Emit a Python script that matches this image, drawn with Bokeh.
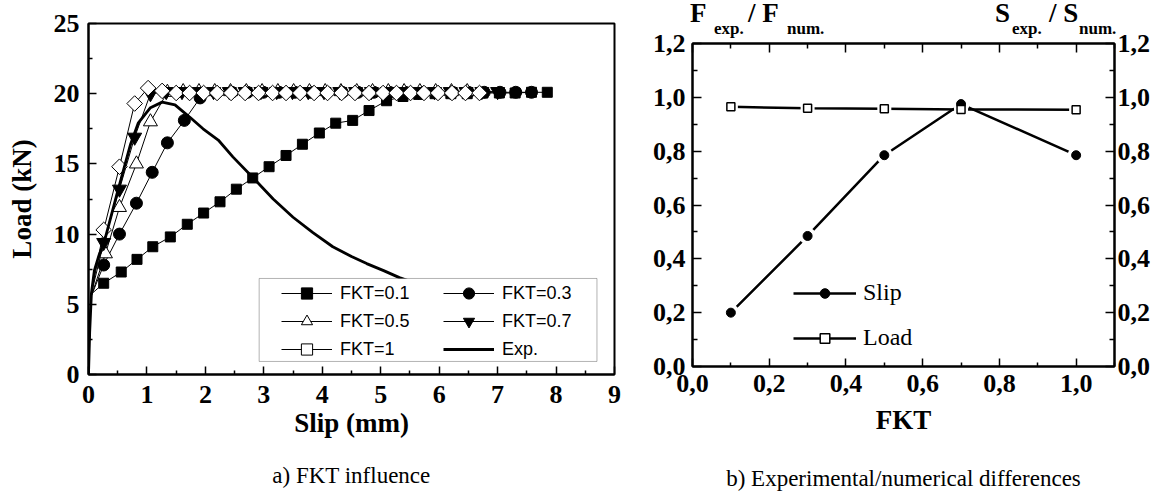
from bokeh.plotting import figure
from bokeh.models import (Range1d, FixedTicker, LinearAxis, Legend, LegendItem, Title, Div,
                          BoxAnnotation, CustomJSTickFormatter)
from bokeh.layouts import row, column
from bokeh.embed import file_html
from bokeh.resources import INLINE
import numpy as np

SERIF = "Liberation Serif"
SANS = "Liberation Sans"

# ---------------- data: a) FKT influence ----------------
fkt01_x = [0.0, 0.04, 0.26, 0.56, 0.83, 1.10, 1.40, 1.69, 1.97, 2.25,
           2.53, 2.81, 3.09, 3.38, 3.66, 3.95, 4.23, 4.52, 4.80, 5.10,
           5.38, 5.65, 5.93, 6.20, 6.48, 6.75, 7.03, 7.30, 7.58, 7.85]
fkt01_y = [0.0, 5.7, 6.5, 7.3, 8.2, 9.1, 9.8, 10.7, 11.5, 12.3,
           13.2, 14.0, 14.8, 15.6, 16.4, 17.2, 17.9, 18.1, 18.8, 19.5,
           19.8, 19.95, 20.0, 20.0, 20.0, 20.05, 20.05, 20.05, 20.1, 20.1]

fkt03_x = [0.0, 0.04, 0.26, 0.53, 0.82, 1.09, 1.35, 1.64, 1.91, 2.18,
           2.45, 2.72, 2.99, 3.26, 3.53, 3.80, 4.07, 4.34, 4.61, 4.88,
           5.15, 5.42, 5.69, 5.96, 6.23, 6.50, 6.77, 7.04, 7.31, 7.58]
fkt03_y = [0.0, 5.5, 7.8, 10.0, 12.2, 14.4, 16.5, 18.1, 19.7, 20.1,
           20.1, 20.1, 20.1, 20.1, 20.1, 20.1, 20.1, 20.1, 20.1, 20.1,
           20.1, 20.1, 20.1, 20.1, 20.1, 20.1, 20.1, 20.1, 20.1, 20.1]

fkt05_x = [0.0, 0.04, 0.29, 0.53, 0.82, 1.06, 1.35, 1.62, 1.89, 2.16,
           2.43, 2.70, 2.97, 3.24, 3.51, 3.78, 4.05, 4.32, 4.59, 4.86,
           5.13, 5.40, 5.67, 5.94, 6.21, 6.48]
fkt05_y = [0.0, 5.5, 8.6, 11.9, 15.0, 18.0, 20.1, 20.15, 20.15, 20.15,
           20.15, 20.15, 20.15, 20.15, 20.15, 20.15, 20.15, 20.15, 20.15, 20.15,
           20.15, 20.15, 20.15, 20.15, 20.15, 20.15]

fkt07_x = [0.0, 0.04, 0.26, 0.53, 0.79, 1.06, 1.33, 1.60, 1.87, 2.14,
           2.41, 2.68, 2.95, 3.22, 3.49, 3.76, 4.03, 4.30, 4.57, 4.84,
           5.11, 5.38, 5.65, 5.92, 6.19, 6.46, 6.73, 7.00]
fkt07_y = [0.0, 5.6, 9.4, 13.2, 16.9, 20.0, 20.15, 20.15, 20.15, 20.15,
           20.15, 20.15, 20.15, 20.15, 20.15, 20.15, 20.15, 20.15, 20.15, 20.15,
           20.15, 20.15, 20.15, 20.15, 20.15, 20.15, 20.15, 20.15]

fkt1_x = [0.0, 0.04, 0.26, 0.53, 0.79, 1.02, 1.26, 1.50, 1.73, 1.97,
          2.20, 2.44, 2.68, 2.91, 3.15, 3.38, 3.62, 3.86, 4.09, 4.33,
          4.56, 4.80, 5.04, 5.27, 5.51, 5.74, 5.98, 6.22, 6.45, 6.69]
fkt1_y = [0.0, 5.6, 10.3, 14.8, 19.3, 20.4, 20.2, 20.05, 20.05, 20.05,
          20.05, 20.05, 20.05, 20.05, 20.05, 20.05, 20.05, 20.05, 20.05, 20.05,
          20.05, 20.05, 20.05, 20.05, 20.05, 20.05, 20.05, 20.05, 20.05, 20.05]

exp_x = [0.0, 0.02, 0.05, 0.10, 0.18, 0.28, 0.49, 0.72, 0.85, 1.06,
         1.26, 1.48, 1.74, 1.96, 2.22, 2.47, 2.82, 3.16, 3.50, 3.84,
         4.18, 4.50, 4.76, 5.05, 5.32, 5.60, 6.00]
exp_y = [0.0, 3.0, 5.8, 7.4, 8.5, 9.6, 12.9, 16.4, 17.9, 19.0,
         19.4, 19.2, 18.3, 17.5, 16.7, 15.5, 14.0, 12.5, 11.2, 10.1,
         9.1, 8.4, 7.9, 7.4, 6.9, 6.5, 6.0]

a_xticks = [0, 1, 2, 3, 4, 5, 6, 7, 8, 9]
a_xminor = [0.5, 1.5, 2.5, 3.5, 4.5, 5.5, 6.5, 7.5, 8.5]
a_yticks = [0, 5, 10, 15, 20, 25]
a_yminor = [2.5, 7.5, 12.5, 17.5, 22.5]

# ---------------- data: b) Experimental/numerical differences ----------------
fkt_b = [0.1, 0.3, 0.5, 0.7, 1.0]
slip_ratio = [0.20, 0.485, 0.785, 0.975, 0.785]
load_ratio = [0.965, 0.959, 0.958, 0.955, 0.954]

b_xticks = [0.0, 0.2, 0.4, 0.6, 0.8, 1.0]
b_xminor = [0.1, 0.3, 0.5, 0.7, 0.9, 1.1]
b_yticks = [0.0, 0.2, 0.4, 0.6, 0.8, 1.0, 1.2]
b_yminor = [0.1, 0.3, 0.5, 0.7, 0.9, 1.1]


def style_axis(ax, standoff):
    ax.axis_line_width = 2
    ax.axis_line_color = "black"
    ax.major_tick_in = 8
    ax.major_tick_out = 0
    ax.minor_tick_in = 4
    ax.minor_tick_out = 0
    ax.major_tick_line_width = 1.5
    ax.minor_tick_line_width = 1.5
    ax.major_tick_line_color = "black"
    ax.minor_tick_line_color = "black"
    ax.major_label_text_font = SERIF
    ax.major_label_text_font_style = "bold"
    ax.major_label_text_font_size = "26px"
    ax.major_label_text_color = "black"
    ax.major_label_standoff = standoff


def add_title(p, text, size, bold, offset, standoff, side="below"):
    t = Title(text=text, text_font=SERIF, text_font_size=size, text_color="black",
              text_font_style="bold" if bold else "normal",
              align="center", offset=offset, standoff=standoff)
    p.add_layout(t, side)
    return t


# ================= figure a =================
p1 = figure(title=None, frame_width=526, frame_height=351, min_border_left=88, min_border_right=21,
            min_border_top=23, min_border_bottom=121,
            x_range=Range1d(0, 9), y_range=Range1d(0, 25),
            output_backend="svg", toolbar_location=None)
p1.grid.visible = False
p1.outline_line_color = "black"
p1.outline_line_width = 2
p1.xaxis.ticker = FixedTicker(ticks=a_xticks, minor_ticks=a_xminor)
p1.yaxis.ticker = FixedTicker(ticks=a_yticks, minor_ticks=a_yminor)
style_axis(p1.xaxis[0], 11)
style_axis(p1.yaxis[0], 9)
p1.yaxis.axis_label = "Load (kN)"
p1.yaxis.axis_label_text_font = SERIF
p1.yaxis.axis_label_text_font_style = "bold"
p1.yaxis.axis_label_text_font_size = "27px"
p1.yaxis.axis_label_text_color = "black"
p1.yaxis.axis_label_standoff = 14

series = [
    ("FKT=0.1", fkt01_x, fkt01_y, dict(marker="square", size=10, fill_color="black", line_color="black")),
    ("FKT=0.3", fkt03_x, fkt03_y, dict(marker="circle", size=12, fill_color="black", line_color="black")),
    ("FKT=0.5", fkt05_x, fkt05_y, dict(marker="triangle", size=14, fill_color="white", line_color="black", line_width=1)),
    ("FKT=0.7", fkt07_x, fkt07_y, dict(marker="inverted_triangle", size=14, fill_color="black", line_color="black")),
    ("FKT=1", fkt1_x, fkt1_y, dict(marker="square", size=11, angle=np.pi / 4, fill_color="white", line_color="black", line_width=1)),
]
items = {}
for name, xs, ys, mk in series:
    rl = p1.line(xs, ys, line_color="black", line_width=1)
    rm = p1.scatter(xs[2:], ys[2:], **mk)
    items[name] = [rl, rm]

r_exp = p1.line(exp_x, exp_y, line_color="black", line_width=2.8)
items["Exp."] = [r_exp]

box = BoxAnnotation(left=2.92, right=8.70, bottom=0.93, top=6.84,
                    fill_color="white", fill_alpha=1.0, line_color="black", line_width=1)
p1.add_layout(box)

leg_kw = dict(glyph_width=51, glyph_height=28, label_height=28, spacing=0, padding=0,
              label_standoff=8, border_line_color=None, background_fill_alpha=0,
              label_text_font=SANS, label_text_font_size="18px", label_text_color="black", margin=0)
leg_a1 = Legend(items=[LegendItem(label=n, renderers=items[n]) for n in ["FKT=0.1", "FKT=0.5", "FKT=1"]],
                location=(193, 11), **leg_kw)
leg_a2 = Legend(items=[LegendItem(label=n, renderers=items[n]) for n in ["FKT=0.3", "FKT=0.7", "Exp."]],
                location=(355, 11), **leg_kw)
p1.add_layout(leg_a1)
p1.add_layout(leg_a2)

add_title(p1, "Slip (mm)", "27px", True, -23, 0)
add_title(p1, "a) FKT influence", "23px", False, -13, 47)

# ================= figure b =================
HEAD_H = 26
p2 = figure(title=None, frame_width=422, frame_height=323, min_border_left=57, min_border_right=44,
            min_border_top=43 - HEAD_H, min_border_bottom=495 - 43 - 323,
            x_range=Range1d(0, 1.1), y_range=Range1d(0, 1.2),
            output_backend="svg", toolbar_location=None)
p2.grid.visible = False
p2.outline_line_color = "black"
p2.outline_line_width = 2
p2.border_fill_alpha = 0
fmt = CustomJSTickFormatter(code="return tick.toFixed(1).replace('.', ',');")
blank = CustomJSTickFormatter(code="return '';")
p2.xaxis.ticker = FixedTicker(ticks=b_xticks, minor_ticks=b_xminor)
p2.yaxis.ticker = FixedTicker(ticks=b_yticks, minor_ticks=b_yminor)
p2.xaxis.formatter = fmt
p2.yaxis.formatter = fmt
style_axis(p2.xaxis[0], 8)
style_axis(p2.yaxis[0], 7)

top_ax = LinearAxis(ticker=FixedTicker(ticks=b_xticks, minor_ticks=b_xminor), formatter=blank)
style_axis(top_ax, 0)
top_ax.major_label_text_font_size = "1px"
p2.add_layout(top_ax, "above")
right_ax = LinearAxis(ticker=FixedTicker(ticks=b_yticks, minor_ticks=b_yminor), formatter=fmt)
style_axis(right_ax, 3)
p2.add_layout(right_ax, "right")
for ax in [p2.xaxis[0], p2.yaxis[0], top_ax, right_ax]:
    ax.minor_tick_in = 5
    ax.major_tick_in = 9

l_load = p2.line(fkt_b, load_ratio, line_color="black", line_width=2.5)
l_slip = p2.line(fkt_b, slip_ratio, line_color="black", line_width=2.5)
p2.scatter(fkt_b, slip_ratio, marker="circle", size=17, fill_color="white", line_color=None)
p2.scatter(fkt_b, load_ratio, marker="square", size=14, fill_color="white", line_color=None)
m_slip = p2.scatter(fkt_b, slip_ratio, marker="circle", size=9, fill_color="black", line_color="black")
m_load = p2.scatter(fkt_b, load_ratio, marker="square", size=8, fill_color="white", line_color="black",
                    line_width=1.5)

leg_b = Legend(items=[LegendItem(label="Slip", renderers=[l_slip, m_slip]),
                      LegendItem(label="Load", renderers=[l_load, m_load])],
               location=(101, 15), glyph_width=63, glyph_height=24, label_height=24, spacing=18,
               padding=0, label_standoff=7, border_line_color=None, background_fill_alpha=0,
               label_text_font=SERIF, label_text_font_size="24px", label_text_color="black", margin=0)
p2.add_layout(leg_b)

add_title(p2, "FKT", "27px", True, -18, 16)
add_title(p2, "b) Experimental/numerical differences", "23px", False, -82, 43)

# ratio labels above figure b (main letters + subscripts)
big = "font-size:27px;"
small = "font-size:17px;"
spans = [(55, 0, big, "F"), (79, 20, small, "exp."), (113, 0, big, "/ F"), (152, 20, small, "num."),
         (360, 0, big, "S"), (377, 20, small, "exp."), (414, 0, big, "/ S"), (444, 20, small, "num.")]
html = ("<div style=\"position:relative;width:523px;height:40px;overflow:visible;"
        "font-family:'Liberation Serif';font-weight:bold;color:black;\">")
for left, top, fs, txt in spans:
    html += (f"<span style=\"position:absolute;left:{left}px;top:{top}px;{fs}line-height:1;"
             f"white-space:nowrap;\">{txt}</span>")
html += "</div>"
head = Div(text=html, width=523, height=HEAD_H, margin=0,
           styles={"overflow": "visible", "z-index": "5"})

layout = row(p1, column(head, p2, spacing=0), spacing=0)
open("out.html", "w").write(file_html(layout, INLINE))
